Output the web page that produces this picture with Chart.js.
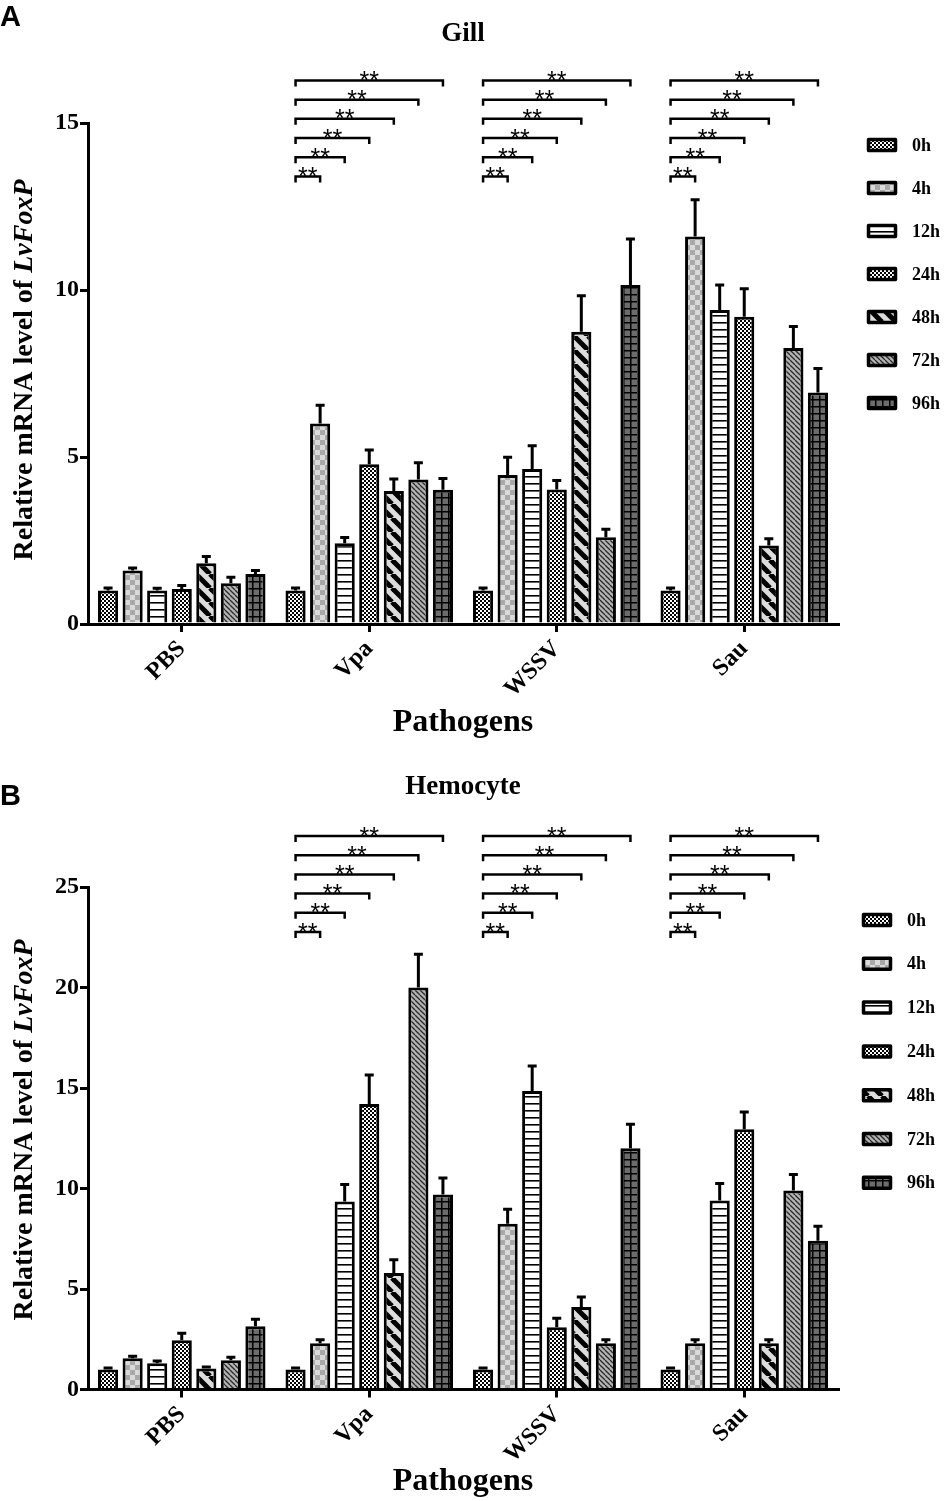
<!DOCTYPE html>
<html>
<head>
<meta charset="utf-8">
<script src="https://cdn.jsdelivr.net/npm/chart.js@4.4.1/dist/chart.umd.min.js"></script>
<style>
  html, body { margin: 0; padding: 0; background: #fff; }
  body { width: 945px; height: 1501px; position: relative; overflow: hidden; }
  .panel { position: absolute; left: 0; width: 945px; }
</style>
</head>
<body>
<div class="panel" style="top:0;height:760px"><canvas id="gill"></canvas></div>
<div class="panel" style="top:760px;height:741px"><canvas id="hemo"></canvas></div>
<script>
// ---- data ----
const pathogens = ['PBS', 'Vpa', 'WSSV', 'Sau'];
const timepoints = ['0h', '4h', '12h', '24h', '48h', '72h', '96h'];
const gillTicks = [0, 5, 10, 15];
const hemoTicks = [0, 5, 10, 15, 20, 25];

// rows = pathogen, columns = time point
const gillMean = [
  [1.0, 1.6, 1.0, 1.05, 1.82, 1.22, 1.5],
  [1.0, 6.0, 2.42, 4.78, 3.98, 4.33, 4.02],
  [1.0, 4.46, 4.64, 4.03, 8.75, 2.6, 10.15],
  [1.0, 11.6, 9.4, 9.2, 2.35, 8.26, 6.93]
];
const gillErr = [
  [0.08, 0.08, 0.07, 0.1, 0.2, 0.18, 0.1],
  [0.08, 0.55, 0.17, 0.43, 0.36, 0.5, 0.34],
  [0.08, 0.53, 0.7, 0.27, 1.08, 0.24, 1.38],
  [0.08, 1.1, 0.75, 0.84, 0.2, 0.65, 0.72]
];
const hemoMean = [
  [1.0, 1.55, 1.3, 2.45, 1.05, 1.45, 3.15],
  [1.0, 2.3, 9.35, 14.2, 5.8, 20.0, 9.7],
  [1.0, 8.25, 14.85, 3.1, 4.1, 2.3, 12.0],
  [1.0, 2.3, 9.4, 12.95, 2.3, 9.9, 7.4]
];
const hemoErr = [
  [0.07, 0.1, 0.12, 0.35, 0.07, 0.15, 0.35],
  [0.07, 0.18, 0.85, 1.45, 0.65, 1.65, 0.82],
  [0.07, 0.72, 1.25, 0.45, 0.5, 0.18, 1.2],
  [0.07, 0.18, 0.85, 0.85, 0.18, 0.8, 0.72]
];
// 0h vs each later time point, marked in these groups
const sigGroups = ['Vpa', 'WSSV', 'Sau'];
const sigMark = '**';
const yTitleMain = 'Relative mRNA level of ';
const yTitleGene = 'LvFoxP';
const xTitle = 'Pathogens';

Chart.defaults.font.family = '"Liberation Serif", "Times New Roman", serif';
Chart.defaults.color = '#000';

// hatch fills, one per time point
function tile(w, h, draw) {
  const c = document.createElement('canvas');
  c.width = w; c.height = h;
  const g = c.getContext('2d');
  draw(g, w, h);
  return g.createPattern(c, 'repeat');
}
function diag(g, s, bg, fg, lw) {
  g.fillStyle = bg; g.fillRect(0, 0, s, s);
  g.strokeStyle = fg; g.lineWidth = lw;
  for (let k = -1; k <= 1; k++) {
    g.beginPath(); g.moveTo(k * s, 0); g.lineTo(k * s + s, s); g.stroke();
  }
}
function checker(g, s, a, b) {
  g.fillStyle = a; g.fillRect(0, 0, 2 * s, 2 * s);
  g.fillStyle = b; g.fillRect(0, 0, s, s); g.fillRect(s, s, s, s);
}
const fills = [
  tile(4, 4, g => checker(g, 2, '#fff', '#000')),
  tile(10, 10, g => checker(g, 5, '#dadada', '#a9a9a9')),
  tile(4, 7, g => { g.fillStyle = '#fff'; g.fillRect(0, 0, 4, 7); g.fillStyle = '#000'; g.fillRect(0, 0, 4, 1.6); }),
  tile(4, 4, g => checker(g, 2, '#fff', '#000')),
  tile(14, 14, g => diag(g, 14, '#dcdcdc', '#000', 5)),
  tile(5, 5, g => diag(g, 5, '#b4b4b4', '#2a2a2a', 1.3)),
  tile(7, 7, g => { g.fillStyle = '#6c6c6c'; g.fillRect(0, 0, 7, 7); g.fillStyle = '#000'; g.fillRect(0, 0, 7, 1.5); g.fillRect(0, 0, 1.5, 7); })
];

// error bars, brackets, legend, axis titles, panel letter
const decor = {
  id: 'decor',
  afterDatasetsDraw(chart) {
    const ctx = chart.ctx, ys = chart.scales.y;
    ctx.save();
    ctx.strokeStyle = '#000';
    ctx.lineWidth = 3;
    chart.data.datasets.forEach((ds, i) => {
      chart.getDatasetMeta(i).data.forEach((bar, j) => {
        const top = ys.getPixelForValue(ds.data[j] + ds.err[j]);
        ctx.beginPath();
        ctx.moveTo(bar.x, bar.y); ctx.lineTo(bar.x, top);
        ctx.moveTo(bar.x - 4.5, top); ctx.lineTo(bar.x + 4.5, top);
        ctx.stroke();
      });
    });
    ctx.restore();
  },
  afterDraw(chart, args, o) {
    const ctx = chart.ctx, ys = chart.scales.y, area = chart.chartArea;
    ctx.save();
    ctx.fillStyle = '#000';
    ctx.strokeStyle = '#000';

    // significance brackets
    const m0 = chart.getDatasetMeta(0);
    sigGroups.forEach(name => {
      const j = pathogens.indexOf(name);
      for (let k = 1; k < timepoints.length; k++) {
        const x0 = m0.data[j].x, x1 = chart.getDatasetMeta(k).data[j].x;
        const yl = ys.getPixelForValue(o.sigBase) - (k - 1) * o.sigGap;
        ctx.lineWidth = 2.5;
        ctx.beginPath();
        ctx.moveTo(x0, yl + 6); ctx.lineTo(x0, yl); ctx.lineTo(x1, yl); ctx.lineTo(x1, yl + 6);
        ctx.stroke();
        ctx.font = '25px "Liberation Sans"';
        ctx.textAlign = 'center';
        ctx.textBaseline = 'alphabetic';
        ctx.fillText(sigMark, (x0 + x1) / 2, yl + 8.5);
      }
    });

    // legend
    chart.data.datasets.forEach((ds, i) => {
      const cy = o.legendY + i * o.legendStep;
      ctx.fillStyle = ds.backgroundColor;
      ctx.fillRect(o.legendX + 1.5, cy - 5.5, 27, 11);
      ctx.lineWidth = 3.5;
      ctx.lineJoin = 'round';
      ctx.strokeRect(o.legendX + 1.5, cy - 5.5, 27, 11);
      ctx.fillStyle = '#000';
      ctx.font = 'bold 18px "Liberation Serif"';
      ctx.textAlign = 'left';
      ctx.textBaseline = 'middle';
      ctx.fillText(ds.label, o.legendX + 45, cy + 1);
    });

    // y title with italic gene name
    ctx.save();
    ctx.translate(o.yTitleX, o.yTitleY);
    ctx.rotate(-Math.PI / 2);
    const f1 = 'bold 28px "Liberation Serif"', f2 = 'italic bold 28px "Liberation Serif"';
    ctx.font = f1; const w1 = ctx.measureText(yTitleMain).width;
    ctx.font = f2; const w2 = ctx.measureText(yTitleGene).width;
    ctx.textAlign = 'left';
    ctx.textBaseline = 'alphabetic';
    ctx.font = f1; ctx.fillText(yTitleMain, -(w1 + w2) / 2, 0);
    ctx.font = f2; ctx.fillText(yTitleGene, -(w1 + w2) / 2 + w1, 0);
    ctx.restore();

    // x title
    ctx.font = 'bold 32px "Liberation Serif"';
    ctx.textAlign = 'center';
    ctx.textBaseline = 'alphabetic';
    ctx.fillText(xTitle, (area.left + area.right) / 2, o.xTitleY);

    // panel letter
    ctx.font = 'bold 29px "Liberation Sans"';
    ctx.textAlign = 'left';
    ctx.fillText(o.letter, 0, o.letterY);
    ctx.restore();
  }
};

function drawPanel(id, title, mean, err, yTicks, look) {
  const datasets = timepoints.map((t, i) => ({
    label: t,
    data: mean.map(r => r[i]),
    err: err.map(r => r[i]),
    backgroundColor: fills[i],
    borderColor: '#000',
    borderWidth: 3,
    categoryPercentage: 0.917,
    barPercentage: 0.82
  }));
  return new Chart(document.getElementById(id), {
    type: 'bar',
    data: { labels: pathogens, datasets: datasets },
    options: {
      responsive: true,
      maintainAspectRatio: false,
      animation: false,
      layout: { padding: { left: 0, top: 0, right: 107, bottom: 0 } },
      plugins: {
        legend: { display: false },
        tooltip: { enabled: false },
        title: {
          display: true,
          text: title,
          fullSize: false,
          color: '#000',
          font: { size: 27, weight: 'bold' },
          padding: look.titlePad
        },
        decor: look.decor
      },
      scales: {
        x: {
          grid: { display: true, drawOnChartArea: false, offset: false, color: '#000', lineWidth: 3, tickLength: 8 },
          border: { display: true, color: '#000', width: 3 },
          ticks: { color: '#000', font: { size: 24, weight: 'bold' }, minRotation: 45, maxRotation: 45, autoSkip: false, padding: 3 },
          afterFit: s => { s.height = look.xAxisH; }
        },
        y: {
          min: 0,
          max: yTicks[yTicks.length - 1],
          afterBuildTicks: s => { s.ticks = yTicks.map(v => ({ value: v })); },
          grid: { display: true, drawOnChartArea: false, color: '#000', lineWidth: 3, tickLength: 8 },
          border: { display: true, color: '#000', width: 3 },
          ticks: { color: '#000', font: { size: 24, weight: 'bold' }, padding: 1 },
          afterFit: s => { s.width = 88; }
        }
      }
    },
    plugins: [decor]
  });
}

window.onload = function () {
  drawPanel('gill', 'Gill', gillMean, gillErr, gillTicks, {
    titlePad: { top: 18.3, bottom: 72.3 },
    xAxisH: 136,
    decor: { sigBase: 13.4, sigGap: 19.2, legendX: 867, legendY: 145, legendStep: 43,
             yTitleX: 32, yTitleY: 370, xTitleY: 731, letter: 'A', letterY: 26 }
  });
  drawPanel('hemo', 'Hemocyte', hemoMean, hemoErr, hemoTicks, {
    titlePad: { top: 10.8, bottom: 83.8 },
    xAxisH: 111.5,
    decor: { sigBase: 22.76, sigGap: 19.2, legendX: 862, legendY: 160, legendStep: 43.8,
             yTitleX: 32, yTitleY: 370, xTitleY: 730, letter: 'B', letterY: 45 }
  });
};
</script>
</body>
</html>
